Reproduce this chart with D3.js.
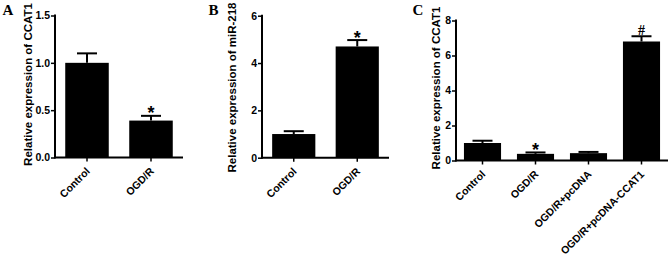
<!DOCTYPE html>
<html>
<head>
<meta charset="utf-8">
<script src="https://cdn.jsdelivr.net/npm/d3@7/dist/d3.min.js"></script>
<style>
  html, body { margin: 0; padding: 0; background: #fff; }
  svg { display: block; }
  svg text { font-family: "Liberation Sans", Arial, sans-serif; font-weight: 700; }
  svg text.serif { font-family: "Liberation Serif", "Times New Roman", serif; font-weight: 700; }
</style>
</head>
<body>
<svg id="chart" width="671" height="257"></svg>
<script>
// ---- Data ----
const catsA = ["Control", "OGD/R"];
const valsA = [1.0, 0.39];
const errA = [0.10, 0.05];
const ticksA = [0, 0.5, 1.0, 1.5];
const marksA = ["", "*"];

const catsB = ["Control", "OGD/R"];
const valsB = [1.0, 4.7];
const errB = [0.12, 0.27];
const ticksB = [0, 2, 4, 6];
const marksB = ["", "*"];

const catsC = ["Control", "OGD/R", "OGD/R+pcDNA", "OGD/R+pcDNA-CCAT1"];
const valsC = [1.0, 0.38, 0.42, 6.8];
const errC = [0.13, 0.08, 0.07, 0.30];
const ticksC = [0, 2, 4, 6, 8];
const marksC = ["", "*", "", "#"];

const svg = d3.select("#chart");

function panel(opts) {
  const { cats, vals, errs, ticks, marks, x0, x1, y0, y1, ymax, fmt, pad, label, labelX, labelY, letter, letterX } = opts;
  const x = d3.scaleBand().domain(cats).range([x0, x1]).paddingInner(pad).paddingOuter(pad / 2);
  const y = d3.scaleLinear().domain([0, ymax]).range([y0, y1]);
  const g = svg.append("g");

  g.selectAll("rect.bar").data(cats).join("rect")
    .attr("x", d => x(d)).attr("width", x.bandwidth())
    .attr("y", (d, i) => y(vals[i])).attr("height", (d, i) => y(0) - y(vals[i]))
    .attr("fill", "#000");

  const capW = 20;
  cats.forEach((c, i) => {
    const cx = x(c) + x.bandwidth() / 2;
    const top = y(vals[i] + errs[i]);
    g.append("line").attr("x1", cx).attr("x2", cx)
      .attr("y1", y(vals[i])).attr("y2", top)
      .attr("stroke", "#000").attr("stroke-width", 2);
    g.append("line").attr("x1", cx - capW / 2).attr("x2", cx + capW / 2)
      .attr("y1", top).attr("y2", top)
      .attr("stroke", "#000").attr("stroke-width", 2);
    if (marks[i] === "*") {
      g.append("text").attr("x", cx).attr("y", top + 3.5)
        .attr("text-anchor", "middle").attr("font-size", 18).text("*");
    } else if (marks[i] === "#") {
      g.append("text").attr("class", "serif").attr("x", cx).attr("y", top - 1.5)
        .attr("text-anchor", "middle").attr("font-size", 14).text("#");
    }
  });

  const ya = g.append("g").attr("transform", `translate(${x0},0)`)
    .call(d3.axisLeft(y).tickValues(ticks).tickFormat(d3.format(fmt)).tickSize(4).tickSizeOuter(0));
  ya.attr("font-family", null).attr("font-size", null);
  ya.select(".domain").attr("stroke-width", 2).attr("d", `M0,${y0 + 1}V${y1 - 1}`);
  ya.selectAll(".tick line").attr("stroke-width", 1.5);
  ya.selectAll(".tick text").attr("font-size", 10.5).attr("x", -5);

  const xa = g.append("g").attr("transform", `translate(0,${y0})`)
    .call(d3.axisBottom(x).tickSize(4).tickSizeOuter(0));
  xa.attr("font-family", null).attr("font-size", null);
  xa.select(".domain").attr("stroke-width", 2).attr("d", `M${x0},0H${x1}`);
  xa.selectAll(".tick line").attr("stroke-width", 1.5);
  xa.selectAll(".tick text").attr("font-size", 10.5)
    .attr("text-anchor", "end").attr("dy", null).attr("y", null)
    .attr("transform", "translate(3.5,14.5) rotate(-45)");

  g.append("text").attr("transform", `translate(${labelX},${labelY}) rotate(-90)`)
    .attr("text-anchor", "middle").attr("font-size", 11.5).text(label);

  g.append("text").attr("class", "serif").attr("x", letterX).attr("y", 14.5)
    .attr("font-size", 15).text(letter);
}

panel({ cats: catsA, vals: valsA, errs: errA, ticks: ticksA, marks: marksA,
  x0: 55, x1: 183, y0: 157.5, y1: 15.5, ymax: 1.5, fmt: ".1f", pad: 0.32,
  label: "Relative expression of CCAT1", labelX: 31.5, labelY: 84.5, letter: "A", letterX: 2.5 });

panel({ cats: catsB, vals: valsB, errs: errB, ticks: ticksB, marks: marksB,
  x0: 262, x1: 389, y0: 157.7, y1: 15.7, ymax: 6, fmt: "d", pad: 0.32,
  label: "Relative expression of miR-218", labelX: 235.5, labelY: 87.5, letter: "B", letterX: 208.5 });

panel({ cats: catsC, vals: valsC, errs: errC, ticks: ticksC, marks: marksC,
  x0: 456, x1: 668, y0: 160.5, y1: 20.5, ymax: 8, fmt: "d", pad: 0.30,
  label: "Relative expression of CCAT1", labelX: 439.5, labelY: 88, letter: "C", letterX: 412.5 });
</script>
</body>
</html>
